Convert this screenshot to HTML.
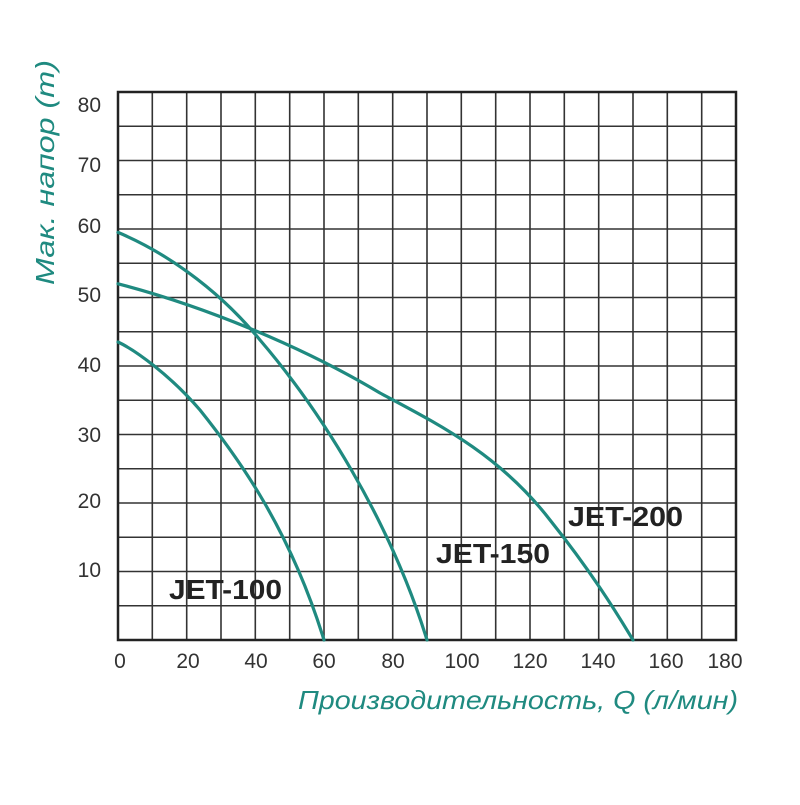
<!DOCTYPE html>
<html><head><style>body{margin:0;background:#fff}</style></head><body>
<svg width="800" height="800" xmlns="http://www.w3.org/2000/svg" font-family="Liberation Sans, sans-serif">
<rect width="800" height="800" fill="#fff"/>
<g stroke="#333" stroke-width="1.6">
<path d="M152.3 92V640M186.7 92V640M221 92V640M255.3 92V640M289.7 92V640M324 92V640M358.3 92V640M392.7 92V640M427 92V640M461.3 92V640M495.7 92V640M530 92V640M564.3 92V640M598.7 92V640M633 92V640M667.3 92V640M701.7 92V640"/>
<path d="M118 126.25H736M118 160.5H736M118 194.75H736M118 229H736M118 263.25H736M118 297.5H736M118 331.75H736M118 366H736M118 400.25H736M118 434.5H736M118 468.75H736M118 503H736M118 537.25H736M118 571.5H736M118 605.75H736"/>
</g>
<rect x="118" y="92" width="618" height="548" fill="none" stroke="#222" stroke-width="2.5"/>
<g fill="none" stroke="#1f8a80" stroke-width="3.2" stroke-linejoin="round" stroke-linecap="round">
<path d="M118,342 C135,350 170,375 200,410 C240,460 290,530 324,640"/>
<path d="M118,232.4 C160,250 215,285 260,340 C320,410 390,520 427,640"/>
<path d="M118,283.8 C200,305 300,345 380,393 C440,425 500,455 550,520 C590,570 615,610 633,640"/>
</g>
<g font-size="21" fill="#333" text-anchor="end">
<text x="101" y="112">80</text><text x="101" y="172">70</text><text x="101" y="233">60</text>
<text x="101" y="302">50</text><text x="101" y="372">40</text><text x="101" y="442">30</text>
<text x="101" y="508">20</text><text x="101" y="577">10</text>
</g>
<g font-size="21" fill="#333" text-anchor="middle">
<text x="120" y="668">0</text><text x="188" y="668">20</text><text x="256" y="668">40</text>
<text x="324" y="668">60</text><text x="393" y="668">80</text><text x="462" y="668">100</text>
<text x="530" y="668">120</text><text x="598" y="668">140</text><text x="666" y="668">160</text><text x="725" y="668">180</text>
</g>
<g font-size="28" font-weight="bold" fill="#222">
<text x="169" y="599" textLength="113" lengthAdjust="spacingAndGlyphs">JET-100</text>
<text x="436" y="563" textLength="114" lengthAdjust="spacingAndGlyphs">JET-150</text>
<text x="568" y="526" textLength="115" lengthAdjust="spacingAndGlyphs">JET-200</text>
</g>
<text x="298" y="709" font-size="26" font-style="italic" fill="#1f8a80" textLength="440" lengthAdjust="spacingAndGlyphs">Производительность, Q (л/мин)</text>
<text transform="translate(54,285) rotate(-90)" font-size="26" font-style="italic" fill="#1f8a80" textLength="225" lengthAdjust="spacingAndGlyphs">Мак. напор (m)</text>
</svg>
</body></html>
